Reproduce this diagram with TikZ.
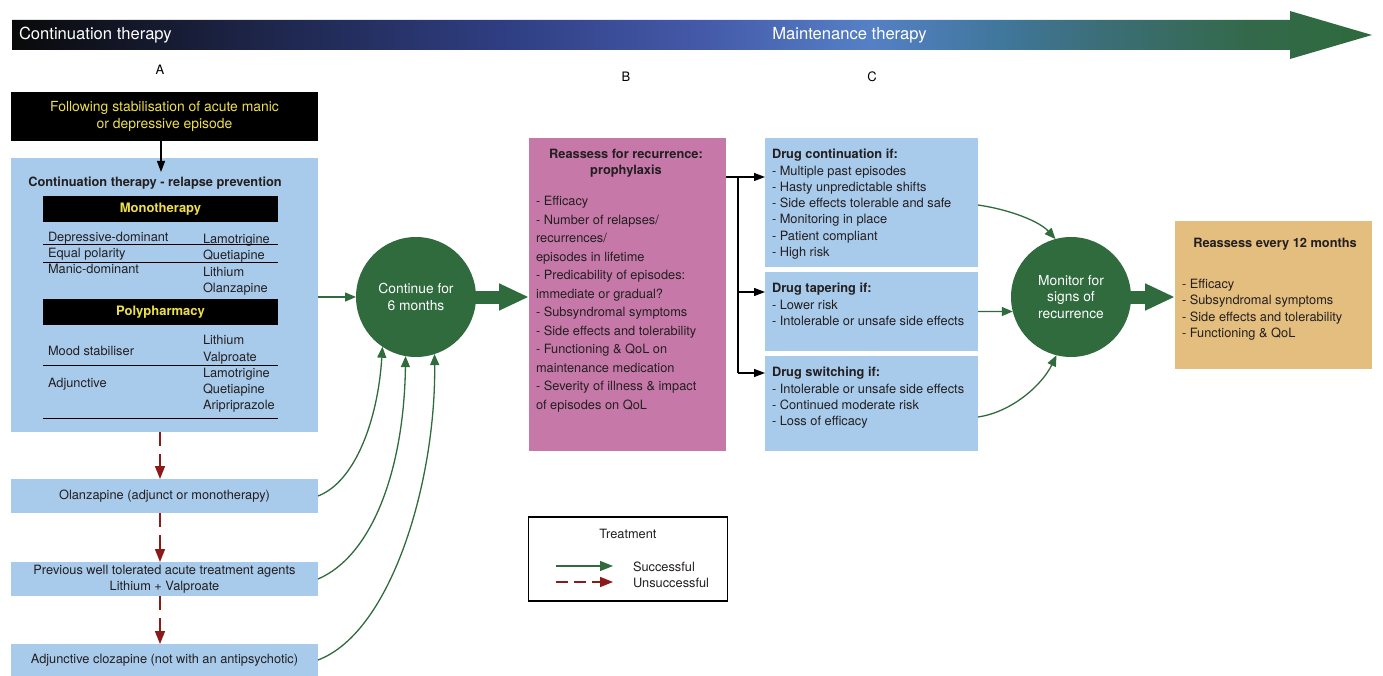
\documentclass[tikz,border=0pt]{standalone}
\usepackage{fontspec}
\setmainfont{TeX Gyre Heros}
\usetikzlibrary{arrows.meta}
\definecolor{lblue}{HTML}{A8CAEB}
\definecolor{pinkc}{HTML}{C679A9}
\definecolor{orangec}{HTML}{E4BE7E}
\definecolor{dgreen}{HTML}{2F6B3D}
\definecolor{dred}{HTML}{8B1A1A}
\definecolor{yelc}{HTML}{EDE04A}
\definecolor{txtc}{HTML}{231F20}
\definecolor{bar0}{HTML}{0A0A0A}
\definecolor{bar1}{HTML}{1B2242}
\definecolor{bar2}{HTML}{2F3E82}
\definecolor{bar3}{HTML}{4459A8}
\definecolor{bar4}{HTML}{5580C6}
\definecolor{bar5}{HTML}{40779C}
\definecolor{bar6}{HTML}{3C6E78}
\definecolor{bar7}{HTML}{33694A}
\definecolor{bar8}{HTML}{2E6A3C}
\pgfdeclarehorizontalshading{barshade}{100bp}{color(0bp)=(bar0); color(25bp)=(bar0); color(33bp)=(bar1); color(43bp)=(bar2); color(50.3bp)=(bar3); color(56.5bp)=(bar4); color(61.3bp)=(bar5); color(65bp)=(bar6); color(70.5bp)=(bar7); color(75bp)=(bar8); color(100bp)=(bar8)}
\begin{document}
\begin{tikzpicture}[x=1pt,y=-1pt,
  every node/.style={inner sep=0pt,outer sep=0pt},
  sz/.style 2 args={minimum width=#1pt, minimum height=#2pt},
  tb/.style={text=txtc, font=\fontsize{12.8}{16.3}\selectfont},
  body/.style={text=txtc, font=\fontsize{12.8}{16.3}\selectfont, align=left, anchor=north west},
  ttl/.style={text=txtc, font=\fontsize{12.8}{16}\selectfont\bfseries, align=center},
  blackbar/.style={fill=black, text=yelc, font=\fontsize{13}{15}\selectfont\bfseries},
  rule/.style={draw=black, line width=1pt},
  okarrow/.style={draw=dgreen, line width=1.3pt, -{Triangle[length=11pt,width=9pt]}},
  failarrow/.style={draw=dred, line width=1.6pt, dash pattern=on 14pt off 8pt, -{Triangle[length=13pt,width=10pt]}},
  blkarrow/.style={draw=black, line width=1.2pt, -{Triangle[length=11pt,width=8pt]}},
  fatarrow/.style={draw=dgreen, line width=13pt, -{Triangle[length=30pt,width=25pt]}},
  circ/.style={circle, fill=dgreen, minimum size=120pt, text=white, align=center, font=\fontsize{13.8}{16.5}\selectfont},
  lbl/.style={text=black, font=\fontsize{13}{14}\selectfont}
]
\useasboundingbox (0,0) rectangle (1383,676);

% top bar
\shade[shading=barshade] (12,20) -- (1290,20) -- (1290,11) -- (1372,35) -- (1290,59) -- (1290,50) -- (12,50) -- cycle;
\node[text=white, font=\fontsize{16.6}{18}\selectfont, anchor=west] (t1) at (19,35) {Continuation therapy};
\node[text=white, font=\fontsize{16.6}{18}\selectfont] (t2) at (849.5,35) {Maintenance therapy};
\node[lbl] (lA) at (160,70) {A};
\node[lbl] (lB) at (626,77) {B};
\node[lbl] (lC) at (872,77) {C};

% left column
\node[fill=black, sz={307}{49}, text=yelc, align=center, font=\fontsize{13.9}{16.8}\selectfont] (stab) at (164.5,116.5) {Following stabilisation of acute manic\\or depressive episode};
\node[fill=lblue, sz={307}{274}] (cont) at (164.5,295) {};
\coordinate (a1) at (161,172);
\draw[blkarrow] (stab.south -| a1) -- (a1);
\node[ttl] (ctitle) at (155,183) {Continuation therapy - relapse prevention};
\node[blackbar, sz={235}{26}] (mono) at (160.5,209) {Monotherapy};
\node[blackbar, sz={235}{26}] (poly) at (160.5,312) {Polypharmacy};

\node[tb, anchor=base west] (r1) at (48,241.5) {Depressive-dominant};
\node[tb, anchor=base west] (r2) at (48,257.5) {Equal polarity};
\node[tb, anchor=base west] (r3) at (48,273.5) {Manic-dominant};
\node[tb, anchor=base west] (d1) at (203,243.5) {Lamotrigine};
\node[tb, anchor=base west] (d2) at (203,259.5) {Quetiapine};
\node[tb, anchor=base west] (d3) at (203,276.5) {Lithium};
\node[tb, anchor=base west] (d4) at (203,292.5) {Olanzapine};
\draw[rule] (43,245) -- (278,245);
\draw[rule] (43,263) -- (278,263);

\node[tb, anchor=base west] (r4) at (48,355.5) {Mood stabiliser};
\node[tb, anchor=base west] (r5) at (48,387.5) {Adjunctive};
\node[tb, anchor=base west] (p1) at (203,344.5) {Lithium};
\node[tb, anchor=base west] (p2) at (203,361.5) {Valproate};
\node[tb, anchor=base west] (p3) at (203,377.5) {Lamotrigine};
\node[tb, anchor=base west] (p4) at (203,393.5) {Quetiapine};
\node[tb, anchor=base west] (p5) at (203,409.5) {Aripriprazole};
\draw[rule] (43,365) -- (278,365);
\draw[rule] (43,418) -- (278,418);

\node[fill=lblue, sz={307}{34}, tb] (olz) at (164.5,496) {Olanzapine (adjunct or monotherapy)};
\node[fill=lblue, sz={307}{34}, tb, align=center, font=\fontsize{12.8}{16}\selectfont] (prev) at (164.5,579) {Previous well tolerated acute treatment agents\\Lithium + Valproate};
\node[fill=lblue, sz={307}{32}, tb] (cloz) at (164.5,660) {Adjunctive clozapine (not with an antipsychotic)};

\coordinate (rx) at (160,0);
\draw[failarrow] (cont.south -| rx) -- (olz.north -| rx);
\draw[failarrow] (olz.south -| rx) -- (prev.north -| rx);
\draw[failarrow] (prev.south -| rx) -- (cloz.north -| rx);

% continue circle
\node[circ] (c1) at (416,297) {Continue for\\6 months};
\draw[okarrow] (c1.west -| cont.east) -- (c1.west);
\draw[okarrow] (olz.east) .. controls (355,482) and (378,420) .. (c1.-124);
\draw[okarrow] (prev.east) .. controls (372,556) and (404,470) .. (c1.-100);
\draw[okarrow] (cloz.east) .. controls (392,632) and (436,480) .. (c1.-72);

% pink box
\node[fill=pinkc, sz={197}{313}] (pink) at (627.5,294.5) {};
\draw[fatarrow] ([xshift=-4pt]c1.east) -- (c1.east -| pink.west);
\node[ttl] (ptitle) at (626,163) {Reassess for recurrence:\\prophylaxis};
\node[body, font=\fontsize{12.8}{18.5}\selectfont] (plist) at (536,196.2) {- Efficacy\\- Number of relapses/\\recurrences/\\episodes in lifetime\\- Predicability of episodes:\\immediate or gradual?\\- Subsyndromal symptoms\\- Side effects and tolerability\\- Functioning \& QoL on\\maintenance medication\\- Severity of illness \& impact\\of episodes on QoL};

% right blue boxes
\node[fill=lblue, sz={213}{129}] (box1) at (871.5,202.5) {};
\node[fill=lblue, sz={213}{79}] (box2) at (871.5,311.5) {};
\node[fill=lblue, sz={213}{95}] (box3) at (871.5,403.5) {};
\node[body] (b1t) at (772,149.2) {\textbf{Drug continuation if:}\\- Multiple past episodes\\- Hasty unpredictable shifts\\- Side effects tolerable and safe\\- Monitoring in place\\- Patient compliant\\- High risk};
\node[body] (b2t) at (772,283.2) {\textbf{Drug tapering if:}\\- Lower risk\\- Intolerable or unsafe side effects};
\node[body] (b3t) at (772,367.2) {\textbf{Drug switching if:}\\- Intolerable or unsafe side effects\\- Continued moderate risk\\- Loss of efficacy};

\coordinate (j1) at (738,177);
\coordinate (j2) at (738,292);
\coordinate (j3) at (738,373);
\draw[black, line width=1.2pt] (pink.east |- j1) -- (j1) -- (j3);
\draw[blkarrow] (j1) -- (j1 -| box1.west);
\draw[blkarrow] (j2) -- (j2 -| box2.west);
\draw[blkarrow] (j3) -- (j3 -| box3.west);

% monitor circle
\node[circ] (c2) at (1071,297) {Monitor for\\signs of\\recurrence};
\draw[okarrow] (box1.east |- 0,205) .. controls (1012,210) and (1040,222) .. (c2.105);
\draw[okarrow] (box2.east) -- (c2.-166);
\draw[okarrow] (box3.east |- 0,417) .. controls (1012,412) and (1042,385) .. (c2.-104);

% orange box
\node[fill=orangec, sz={197}{148}] (orng) at (1273.5,295) {};
\draw[fatarrow] ([xshift=-4pt]c2.east) -- (c2.east -| orng.west);
\node[ttl] (otitle) at (1275,244) {Reassess every 12 months};
\node[body] (olist) at (1182,279.2) {- Efficacy\\- Subsyndromal symptoms\\- Side effects and tolerability\\- Functioning \& QoL};

% legend
\node[draw=black, line width=1.3pt, fill=white, sz={199}{84}] (leg) at (628,559) {};
\node[tb] (legt) at (628,534) {Treatment};
\coordinate (g1) at (556,566);
\coordinate (g2) at (613,566);
\coordinate (h1) at (556,582);
\coordinate (h2) at (613,582);
\draw[okarrow, -{Triangle[length=13pt,width=10pt]}] (g1) -- (g2);
\draw[failarrow, dash pattern=on 12pt off 6pt] (h1) -- (h2);
\node[tb, anchor=base west] (ls) at (633,571.5) {Successful};
\node[tb, anchor=base west] (lu) at (633,587.5) {Unsuccessful};
\end{tikzpicture}
\end{document}
